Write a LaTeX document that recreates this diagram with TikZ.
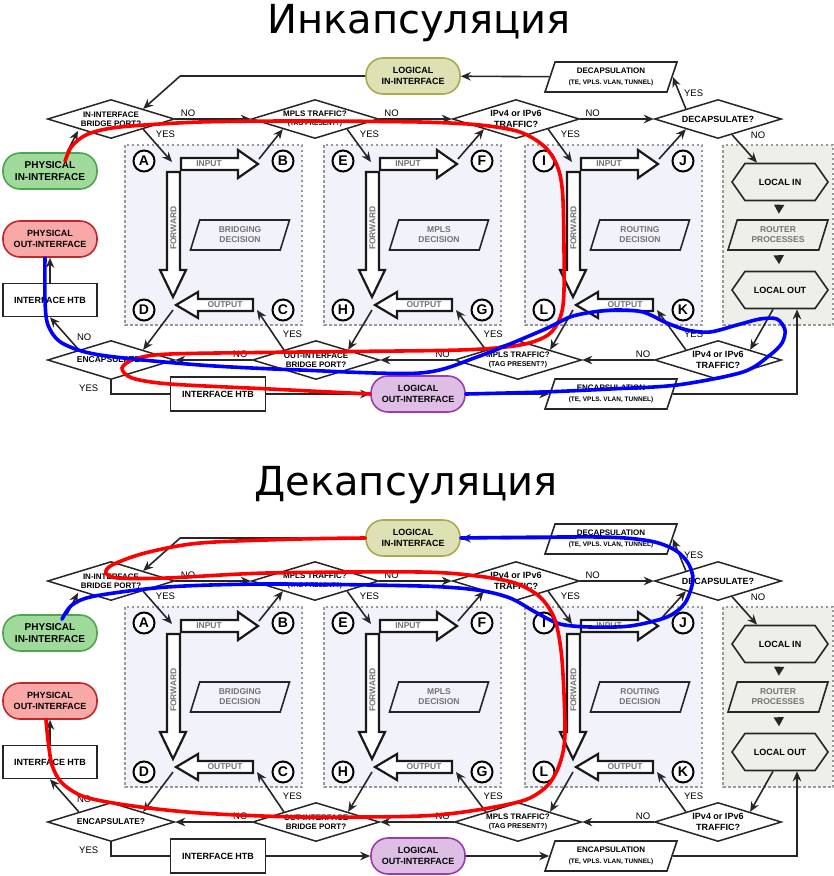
\documentclass[tikz,border=0pt]{standalone}
\usepackage{fontspec}
\setmainfont{Liberation Sans}
\newfontfamily\headfont{DejaVu Sans}
\usetikzlibrary{shapes.geometric,shapes.symbols,arrows.meta,calc}

\definecolor{greenline}{RGB}{80,165,80}
\definecolor{greenfill}{RGB}{160,218,155}
\definecolor{redline}{RGB}{190,40,40}
\definecolor{redfill}{RGB}{249,168,168}
\definecolor{oliveline}{RGB}{170,170,80}
\definecolor{olivefill}{RGB}{222,225,180}
\definecolor{purpleline}{RGB}{155,60,170}
\definecolor{purplefill}{RGB}{222,190,228}
\definecolor{areafill}{RGB}{242,242,251}
\definecolor{localfill}{RGB}{239,239,234}

\begin{document}
\begin{tikzpicture}[x=1pt, y=-1pt,
    lbl/.style={align=center, inner sep=0pt, font=\bfseries\fontsize{9}{10.5}\selectfont},
    iface/.style={lbl, draw, line width=1.6pt, rounded corners=17pt, minimum width=94pt, minimum height=36pt},
    physin/.style={iface, draw=greenline, fill=greenfill, font=\bfseries\fontsize{10}{11.5}\selectfont},
    physout/.style={iface, draw=redline, fill=redfill},
    logicin/.style={iface, draw=oliveline, fill=olivefill},
    logicout/.style={iface, draw=purpleline, fill=purplefill},
    ask/.style={diamond, draw=black!85, line width=1.5pt, fill=white, aspect=3.2, inner sep=0pt, align=center,
        minimum width=127pt, minimum height=39pt, font=\bfseries\fontsize{8}{9.5}\selectfont},
    htb/.style={lbl, draw=black!85, line width=1.6pt, fill=white, minimum width=95pt, minimum height=34pt},
    para/.style={lbl, trapezium, trapezium left angle=60, trapezium right angle=120, trapezium stretches body,
        draw=black!85, line width=1.6pt, minimum height=30pt},
    hexa/.style={lbl, signal, signal to=east and west, signal pointer angle=110, draw=black!85, line width=1.6pt,
        fill=localfill, minimum width=96pt, minimum height=37pt},
    letter/.style={circle, draw, line width=2pt, fill=white, minimum size=21pt, inner sep=0pt,
        font=\bfseries\fontsize{14}{14}\selectfont},
    area/.style={draw=gray!80, line width=2pt, dash pattern=on 2.5pt off 2.5pt},
    block/.style={draw=black!90, line width=2.2pt, fill=white, line join=miter},
    flowtxt/.style={lbl, text=black!55, font=\bfseries\fontsize{8.5}{10}\selectfont},
    arr/.style={draw=black!85, line width=1.6pt, -{Stealth[length=10pt,width=8.5pt]}},
    tri/.style={draw=black!85, line width=1.6pt, -{Triangle[length=9pt,width=10pt]}},
    yn/.style={inner sep=1pt, font=\fontsize{9.5}{10}\selectfont},
    redway/.style={draw=red, line width=3.6pt, line cap=round},
    blueway/.style={draw=blue, line width=3.6pt, line cap=round}
]
\useasboundingbox (0,0) rectangle (834,876);

\foreach \h/\dy/\tx/\title in {t/0/419/Инкапсуляция, b/462/406/Декапсуляция}{
\begin{scope}[shift={(0,\dy)}]
\node[font=\headfont\fontsize{40}{42}\selectfont, anchor=base] (\h-title) at (\tx,33) {\title};

% the three decision areas
\foreach \k/\dx/\what/\la/\lb/\lc/\ld in {0/0/BRIDGING/A/B/C/D, 1/199/MPLS/E/F/G/H, 2/400/ROUTING/I/J/K/L}{
\begin{scope}[shift={(125+\dx,145)}]
\draw[area, fill=areafill] (0,0) rectangle (177,180);
\draw[block] (56,13) -- (113,13) -- (113,5) -- (133,19) -- (113,33) -- (113,25) -- (56,25) -- cycle;
\draw[block] (42,27) -- (55,27) -- (55,125) -- (61,125) -- (48,152) -- (35,125) -- (42,125) -- cycle;
\draw[block] (128,154) -- (73,154) -- (73,147) -- (51,160) -- (73,173) -- (73,166) -- (128,166) -- cycle;
\node[flowtxt] (\h-input\k) at (84,19) {INPUT};
\node[flowtxt, rotate=90] (\h-fwd\k) at (48.5,83) {FORWARD};
\node[flowtxt] (\h-output\k) at (100,160) {OUTPUT};
\node[para, flowtxt, minimum width=99pt] (\h-dec\k) at (115,90) {\what\\DECISION};
\node[letter] (\h-\la) at (19,16) {\la};
\node[letter] (\h-\lb) at (158,16) {\lb};
\node[letter] (\h-\lc) at (158,165) {\lc};
\node[letter] (\h-\ld) at (19,165) {\ld};
\coordinate (\h-a\k) at (47,17);
\coordinate (\h-b\k) at (134,14);
\coordinate (\h-c\k) at (132,165);
\coordinate (\h-d\k) at (48,165);
\end{scope}}

% local area
\draw[area, fill=localfill] (723,145) rectangle (833,325);
\node[hexa] (\h-locin) at (780,182) {LOCAL IN};
\node[para, flowtxt, minimum width=100pt] (\h-router) at (778,235) {ROUTER\\PROCESSES};
\node[hexa] (\h-locout) at (780,290) {LOCAL OUT};
\draw[tri, shorten <=5.5pt, shorten >=5.5pt] (\h-locin) -- (\h-router);
\draw[tri, shorten <=6.5pt, shorten >=6.5pt] (\h-router) -- (\h-locout);

% interfaces and questions
\node[logicin] (\h-login) at (413,76) {LOGICAL\\IN-INTERFACE};
\node[para, fill=white, minimum width=132pt] (\h-decap) at (611,77) {\fontsize{8}{9.5}\selectfont DECAPSULATION\\\fontsize{6.5}{7.5}\selectfont (TE, VPLS. VLAN, TUNNEL)};
\node[ask] (\h-inbr) at (111,119) {IN-INTERFACE\\BRIDGE PORT?};
\node[ask] (\h-inmpls) at (315,119) {MPLS TRAFFIC?\\\fontsize{6.5}{7.5}\selectfont (TAG PRESENT?)};
\node[ask, font=\bfseries\fontsize{9}{10.5}\selectfont] (\h-inip) at (516,119) {IPv4 or IPv6\\TRAFFIC?};
\node[ask, font=\bfseries\fontsize{9}{10.5}\selectfont] (\h-decq) at (718,119) {DECAPSULATE?};
\node[physin] (\h-physin) at (50,171) {PHYSICAL\\IN-INTERFACE};
\node[physout] (\h-physout) at (50,239) {PHYSICAL\\OUT-INTERFACE};
\node[htb, minimum width=94pt, minimum height=33pt] (\h-htbl) at (50,300) {INTERFACE HTB};
\node[ask, font=\bfseries\fontsize{8.5}{10}\selectfont] (\h-encq) at (111,360) {ENCAPSULATE?};
\node[ask] (\h-outbr) at (316,360) {OUT-INTERFACE\\BRIDGE PORT?};
\node[ask] (\h-outmpls) at (518,360) {MPLS TRAFFIC?\\\fontsize{7}{8}\selectfont (TAG PRESENT?)};
\node[ask, font=\bfseries\fontsize{9}{10.5}\selectfont] (\h-outip) at (718,360) {IPv4 or IPv6\\TRAFFIC?};
\node[htb] (\h-htbb) at (218,394) {INTERFACE HTB};
\node[logicout] (\h-logout) at (418,394) {LOGICAL\\OUT-INTERFACE};
\node[para, fill=white, minimum width=132pt] (\h-encap) at (611,394) {\fontsize{8}{9.5}\selectfont ENCAPSULATION\\\fontsize{6.5}{7.5}\selectfont (TE, VPLS. VLAN, TUNNEL)};

% ingress connectors
\draw[arr] (\h-decap) -- (\h-login);
\draw[arr] (\h-login.west) -- ++(-185,0) -- (\h-inbr.north east);
\draw[arr, shorten >=2pt] ([xshift=17pt]\h-physin.north) -- (\h-inbr.south west);
\foreach \src/\dst/\k in {inbr/inmpls/0, inmpls/inip/1, inip/decq/2}{
  \draw[arr] (\h-\src) -- node[yn, pos=.17, above=1pt] {NO} (\h-\dst);
  \draw[arr] (\h-\src.south east) -- node[yn, pos=0, anchor=west, xshift=11pt, yshift=-5pt] {YES} (\h-a\k);
  \draw[arr] (\h-b\k) -- (\h-\dst.south west);
}
\draw[arr] (\h-decq.north west) -- node[yn, pos=.5, right=3pt] {YES} (\h-decap.east);
\draw[arr] ($(\h-decq.south)!0.22!(\h-decq.east)$) -- node[yn, pos=0, anchor=west, xshift=17pt] {NO} ([xshift=-23pt]\h-locin.north);

% egress connectors
\foreach \src/\dst/\k in {encq/outbr/0, outbr/outmpls/1, outmpls/outip/2}{
  \draw[arr] (\h-d\k) -- (\h-\src.north east);
  \draw[arr] (\h-\dst.north west) -- node[yn, pos=.4, right=8pt] {YES} (\h-c\k);
  \draw[arr] (\h-\dst) -- node[yn, pos=.15, above=1pt] {NO} (\h-\src);
}
\draw[arr] ([xshift=-7pt]\h-locout.south) -- (\h-outip.north east);
\draw[arr] (\h-encq.north west) -- node[yn, pos=.4, right=8pt] {NO} (\h-htbl.south);
\draw[arr] (\h-htbl) -- (\h-physout);
\draw[draw=black!85, line width=1.6pt] (\h-encq.south) |- node[yn, pos=.3, left=11pt] {YES} (\h-htbb.west);
\draw[arr] (\h-htbb) -- (\h-logout);
\draw[arr] (\h-logout) -- (\h-encap);
\draw[arr] (\h-encap.east) -| ([xshift=17pt]\h-locout.south);
\end{scope}}

% encapsulation paths
\draw[redway] plot[smooth] coordinates {([xshift=15pt,yshift=-9pt]t-physin.north) (72,146) (88,134) (120,127)
  (200,122) (300,121) (420,122) (480,125) (520,132) (545,147) (558,168) (563,200) (564,290) (560,318)
  (548,335) (520,345) (460,350) (300,352) (170,354) (135,359) (122,368) (132,378) (170,384) (270,389) (t-logout.west)};
\draw[blueway] plot[smooth] coordinates {(t-logout.east) (543,392) (610,389) (677,385) (743,372) (770,355)
  (782,343) (785,330) (777,319) (760,319) (737,325) (710,332) (687,330) (667,323) (643,312) (617,310)
  (593,312) (570,317) (543,330) (477,357) (420,373) (300,370) (200,365) (100,355) (62,343) (48,325)
  (45,300) ([xshift=-5pt]t-physout.south)};

% decapsulation paths
\draw[blueway] plot[smooth] coordinates {([xshift=12pt,yshift=-5pt]b-physin.north) (72,605) (95,596) (167,587)
  (267,584) (420,586) (477,590) (510,598) (537,613) (560,624) (590,627) (630,626) (667,617) (685,603)
  (693,580) (688,563) (675,550) (650,541) (600,537) (b-login.east)};
\draw[redway] plot[smooth] coordinates {(b-login.west) (300,539) (200,543) (145,553) (112,565) (106,573)
  (118,578) (167,578) (267,573) (420,572) (477,576) (515,583) (540,597) (555,620) (562,660) (565,733)
  (560,763) (548,785) (525,800) (477,810) (420,816) (300,817) (200,813) (133,806) (85,797) (62,783)
  (52,765) (48,740) ([xshift=-4pt]b-physout.south)};
\end{tikzpicture}
\end{document}
